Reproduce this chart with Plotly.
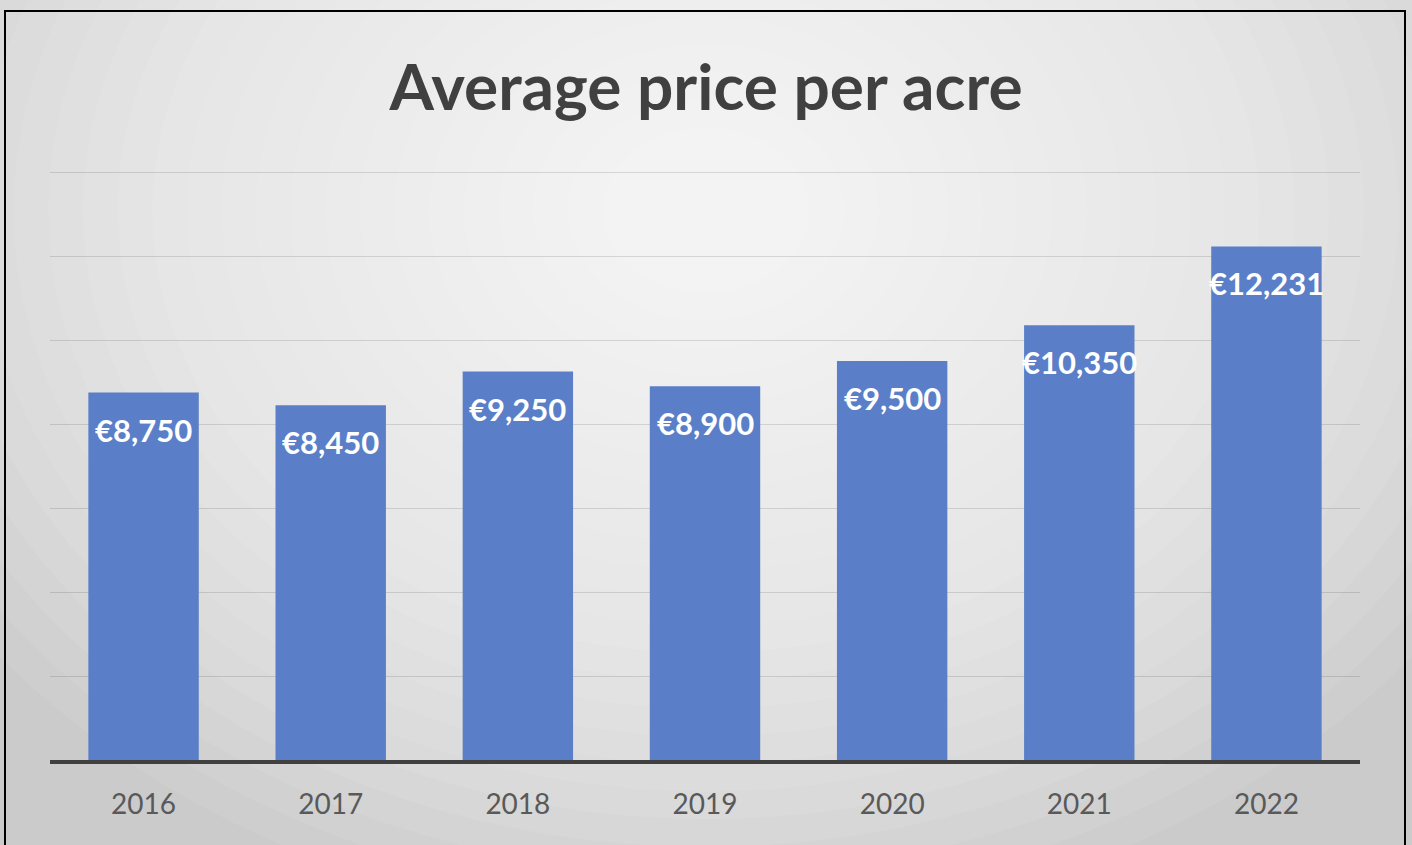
import plotly.graph_objects as go

years = ["2016", "2017", "2018", "2019", "2020", "2021", "2022"]
prices = [8750, 8450, 9250, 8900, 9500, 10350, 12231]
title_text = "Average price per acre"

W, H = 1412, 845
ML, MR, MT, MB = 50, 52, 170, 85
PW, PH = W - ML - MR, H - MT - MB


def px_x(x):
    return (x - ML) / PW


def px_y(y):
    return (H - MB - y) / PH


fig = go.Figure()
fig.add_trace(go.Bar(
    x=years, y=prices,
    marker=dict(color="#5a7fc8", line=dict(width=0)),
    hoverinfo="skip",
))

# value labels: category axes position annotations by category serial number
for i, v in enumerate(prices):
    fig.add_annotation(
        x=i, y=v, xref="x", yref="y",
        text=f"€{v:,}", showarrow=False,
        yshift=-37, yanchor="middle",
        font=dict(family="Lato", size=31, color="white", weight="bold"),
    )

shapes = []
# radial-ish background gradient
n = 26
cx, cy = 706, 210
RX, RY = 900, 720
for i in range(n):
    f = 1 - i / n
    rx, ry = RX * f, RY * f
    shapes.append(dict(
        type="circle", xref="paper", yref="paper", layer="below",
        x0=px_x(cx - rx), x1=px_x(cx + rx),
        y0=px_y(cy + ry), y1=px_y(cy - ry),
        fillcolor="rgba(255,255,255,0.075)", line=dict(width=0),
    ))
# outer border
shapes.append(dict(
    type="rect", xref="paper", yref="paper", layer="above",
    x0=px_x(5), x1=px_x(1405), y0=px_y(860), y1=px_y(11),
    line=dict(color="black", width=2), fillcolor="rgba(0,0,0,0)",
))

fig.update_layout(
    width=W, height=H,
    margin=dict(l=ML, r=MR, t=MT, b=MB),
    paper_bgcolor="#cbcbcb",
    plot_bgcolor="rgba(0,0,0,0)",
    bargap=0.41,
    showlegend=False,
    shapes=shapes,
    title=dict(
        text=title_text, x=0.5, xanchor="center",
        y=1 - 88 / H, yanchor="middle", yref="container",
        font=dict(family="Lato", size=64, color="#404040", weight="bold"),
    ),
    xaxis=dict(
        type="category",
        showline=True, linecolor="#404040", linewidth=4,
        showgrid=False, ticks="", ticklabelstandoff=16,
        tickfont=dict(family="Lato", size=28, color="#595959"),
    ),
    yaxis=dict(
        range=[0, 14050], tickvals=[2000, 4000, 6000, 8000, 10000, 12000, 14000],
        showticklabels=False,
        showgrid=True, gridcolor="rgba(0,0,0,0.12)", gridwidth=1,
        zeroline=False, showline=False,
    ),
)

fig.write_html(
    "out.html",
    config={"displayModeBar": False},
    post_script="document.body.style.margin='0';document.body.style.overflow='hidden';",
)
